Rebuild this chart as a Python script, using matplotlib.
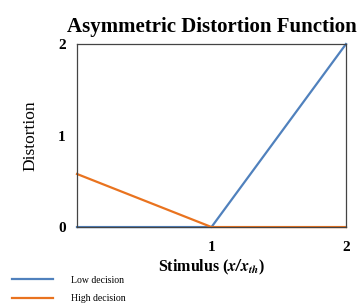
import matplotlib
matplotlib.use("Agg")
import matplotlib.pyplot as plt

# --- Data ---
stimulus = [0, 1, 2]
low_decision = [0, 0, 2]
high_decision = [0.58, 0, 0]
x_ticks = [1, 2]
y_ticks = [0, 1, 2]

plt.rcParams['font.family'] = ['Liberation Serif', 'DejaVu Serif']
plt.rcParams['mathtext.fontset'] = 'stix'

fig = plt.figure(figsize=(3.62, 3.06), dpi=100)
ax = fig.add_axes([0.2127, 0.258, 0.743, 0.598])

ax.plot(stimulus, low_decision, color='#5081BD', lw=1.6, label='Low decision', clip_on=False)
ax.plot(stimulus, high_decision, color='#E9731F', lw=1.6, label='High decision', clip_on=False)

ax.set_xlim(0, 2)
ax.set_ylim(0, 2)
ax.set_xticks(x_ticks)
ax.set_yticks(y_ticks)
ax.tick_params(length=0, labelsize=11, pad=8)
ax.tick_params(axis='x', pad=10)
for lab in ax.get_xticklabels() + ax.get_yticklabels():
    lab.set_fontweight('bold')
for s in ax.spines.values():
    s.set_color('#444444')
    s.set_linewidth(0.9)

ax.set_title('Asymmetric Distortion Function', fontsize=15, fontweight='bold', pad=9)
ax.set_ylabel('Distortion', fontsize=12.5, labelpad=14)
ax.set_xlabel(r'Stimulus ($\mathbfit{x/x_{th}}$)', fontsize=11.5, fontweight='bold', labelpad=3)

fig.legend(loc='lower left', bbox_to_anchor=(0.01, -0.02), frameon=False, fontsize=7,
           handlelength=4.2, handletextpad=1.8, labelspacing=1.0)

fig.savefig('out.png', dpi=100)
